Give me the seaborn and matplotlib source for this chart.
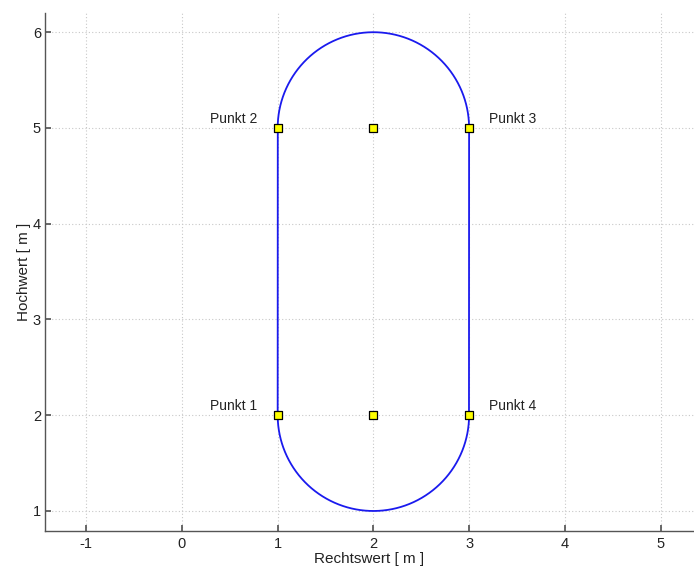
import numpy as np
import pandas as pd
import matplotlib
matplotlib.use("Agg")
import matplotlib.pyplot as plt
import seaborn as sns

# Data
point_x = [1, 2, 3, 1, 2, 3]
point_y = [2, 2, 2, 5, 5, 5]
label_names = ["Punkt 1", "Punkt 2", "Punkt 3", "Punkt 4"]
label_x = [1, 1, 3, 3]
label_y = [2, 5, 5, 2]
label_side = ["left", "left", "right", "right"]
arc_centers_x = [2, 2]
arc_centers_y = [5, 2]
arc_radius = 1.0
xticks = [-1, 0, 1, 2, 3, 4, 5]
yticks = [1, 2, 3, 4, 5, 6]

sns.set_theme(style="white")
plt.rcParams['font.family'] = ['Liberation Sans', 'DejaVu Sans']
plt.rcParams['axes.unicode_minus'] = False

# build the stadium path: left line up, top arc, right line down, bottom arc
t_top = np.linspace(np.pi, 0, 200)
t_bot = np.linspace(0, -np.pi, 200)
px = np.concatenate([
    [1, 1],
    arc_centers_x[0] + arc_radius * np.cos(t_top),
    [3, 3],
    arc_centers_x[1] + arc_radius * np.cos(t_bot),
])
py = np.concatenate([
    [2, 5],
    arc_centers_y[0] + arc_radius * np.sin(t_top),
    [5, 2],
    arc_centers_y[1] + arc_radius * np.sin(t_bot),
])
path = pd.DataFrame({"x": px, "y": py})
pts = pd.DataFrame({"x": point_x, "y": point_y})

fig = plt.figure(figsize=(6.94, 5.68), dpi=100)
ax = fig.add_axes([0.065, 0.065, 0.935, 0.912])

ax.grid(True, color="#c8c8c8", linestyle=(0, (1, 2)), linewidth=0.8)
ax.set_axisbelow(True)

sns.lineplot(data=path, x="x", y="y", sort=False, estimator=None, color="#1a1aee",
             linewidth=1.3, ax=ax)
sns.scatterplot(data=pts, x="x", y="y", marker="s", s=32, color="#ffff00",
                edgecolor="black", linewidth=0.9, ax=ax, zorder=5)

for name, lx, ly, side in zip(label_names, label_x, label_y, label_side):
    if side == "left":
        ax.annotate(name, (lx, ly), xytext=(-14.5, 6.5), textcoords="offset points",
                    ha="right", va="center", fontsize=10, color="#222222")
    else:
        ax.annotate(name, (lx, ly), xytext=(14.5, 6.5), textcoords="offset points",
                    ha="left", va="center", fontsize=10, color="#222222")

ax.set_xlim(-1.43, 5.35)
ax.set_ylim(0.79, 6.2)
ax.set_xticks(xticks)
ax.set_yticks(yticks)
ax.tick_params(axis="both", labelsize=10.5, direction="in", length=4, color="#555555",
               colors="#222222", bottom=True, left=True)
ax.tick_params(axis="x", pad=4)
ax.tick_params(axis="y", pad=3)
ax.set_xlabel("Rechtswert [ m ]", fontsize=11, color="#222222", labelpad=1)
ax.set_ylabel("Hochwert [ m ]", fontsize=11, color="#222222", labelpad=1)

for s in ["top", "right"]:
    ax.spines[s].set_visible(False)
for s in ["left", "bottom"]:
    ax.spines[s].set_color("#555555")
    ax.spines[s].set_linewidth(1.0)

fig.savefig("out.png", dpi=100)
